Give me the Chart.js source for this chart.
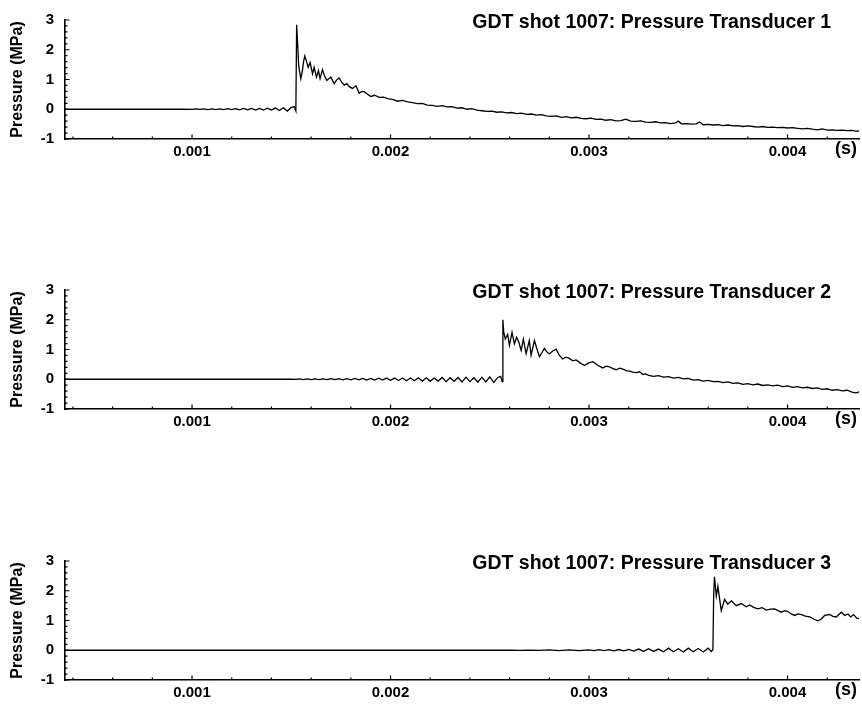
<!DOCTYPE html>
<html>
<head>
<meta charset="utf-8">
<script src="https://cdn.jsdelivr.net/npm/chart.js@4.4.1/dist/chart.umd.min.js"></script>
<style>
  body { margin: 0; background: #fff; }
  #wrap { position: relative; width: 862px; height: 704px; }
  .panel { position: absolute; left: 0; width: 862px; height: 165px; }
</style>
</head>
<body>
<div id="wrap">
  <div class="panel" style="top:0px"><canvas id="c1"></canvas></div>
  <div class="panel" style="top:270px"><canvas id="c2"></canvas></div>
  <div class="panel" style="top:541px"><canvas id="c3"></canvas></div>
</div>
<script>
// time in ms, pressure in MPa
const titles = ['GDT shot 1007: Pressure Transducer 1', 'GDT shot 1007: Pressure Transducer 2', 'GDT shot 1007: Pressure Transducer 3'];
const yTitle = 'Pressure (MPa)';
const xUnit = '(s)';
const xTicks = [0.001, 0.002, 0.003, 0.004];
const xTickLabels = ['0.001', '0.002', '0.003', '0.004'];
const xMinor = [0.0004, 0.0006, 0.0008, 0.0012, 0.0014, 0.0016, 0.0018, 0.0022, 0.0024, 0.0026, 0.0028, 0.0032, 0.0034, 0.0036, 0.0038, 0.0042];
const yTicks = [-1, 0, 1, 2, 3];
const yMinor = [-0.8, -0.6, -0.4, -0.2, 0.2, 0.4, 0.6, 0.8, 1.2, 1.4, 1.6, 1.8, 2.2, 2.4, 2.6, 2.8];

const time1 = [
  0.36, 0.70, 0.90, 0.95, 1.00, 1.02, 1.04, 1.06, 1.08, 1.10,
  1.12, 1.14, 1.16, 1.18, 1.20, 1.22, 1.24, 1.26, 1.28, 1.30,
  1.32, 1.34, 1.36, 1.38, 1.40, 1.42, 1.44, 1.46, 1.48, 1.50,
  1.515, 1.523, 1.527, 1.532, 1.537, 1.541, 1.548, 1.556, 1.562, 1.568,
  1.575, 1.585, 1.595, 1.607, 1.615, 1.627, 1.637, 1.645, 1.657, 1.668,
  1.679, 1.699, 1.716, 1.728, 1.741, 1.755, 1.767, 1.780, 1.792, 1.808,
  1.826, 1.842, 1.855, 1.867, 1.885, 1.901, 1.920, 1.943, 1.965, 1.985,
  2.010, 2.035, 2.060, 2.086, 2.110, 2.136, 2.160, 2.185, 2.210, 2.235,
  2.260, 2.285, 2.310, 2.335, 2.360, 2.385, 2.410, 2.435, 2.460, 2.485,
  2.510, 2.535, 2.560, 2.585, 2.610, 2.635, 2.660, 2.685, 2.710, 2.735,
  2.760, 2.785, 2.810, 2.835, 2.860, 2.885, 2.910, 2.935, 2.960, 2.985,
  3.010, 3.035, 3.060, 3.085, 3.110, 3.135, 3.160, 3.185, 3.210, 3.235,
  3.260, 3.285, 3.310, 3.335, 3.360, 3.385, 3.410, 3.435, 3.450, 3.465,
  3.490, 3.515, 3.540, 3.557, 3.575, 3.600, 3.625, 3.650, 3.675, 3.700,
  3.725, 3.750, 3.775, 3.800, 3.825, 3.850, 3.875, 3.900, 3.925, 3.950,
  3.975, 4.000, 4.025, 4.050, 4.075, 4.100, 4.125, 4.150, 4.175, 4.200,
  4.225, 4.250, 4.275, 4.300, 4.325, 4.350, 4.370
];
const press1 = [
  0, 0, 0, 0.005, -0.005, 0.01, -0.005, 0.01, -0.01, 0.015,
  -0.01, 0.015, -0.015, 0.02, -0.015, 0.02, -0.02, 0.025, -0.02, 0.03,
  -0.025, 0.03, -0.03, 0.035, -0.03, 0.04, -0.04, 0.05, -0.06, 0.06,
  0.08, -0.06, 2.84, 2.2, 1.5, 1.3, 1.03, 1.3, 1.6, 1.79,
  1.65, 1.41, 1.57, 1.19, 1.41, 1.08, 1.30, 1.03, 1.33, 1.12,
  0.97, 1.08, 0.86, 0.98, 1.05, 0.90, 0.81, 0.86, 0.76, 0.70,
  0.79, 0.54, 0.60, 0.59, 0.50, 0.43, 0.47, 0.40, 0.41, 0.36,
  0.33, 0.27, 0.30, 0.25, 0.22, 0.19, 0.20, 0.14, 0.13, 0.10,
  0.12, 0.08, 0.09, 0.04, 0.05, 0.00, 0.02, -0.03, -0.05, -0.07,
  -0.06, -0.10, -0.09, -0.12, -0.11, -0.15, -0.13, -0.17, -0.16, -0.20,
  -0.18, -0.22, -0.24, -0.22, -0.27, -0.25, -0.29, -0.27, -0.31, -0.32,
  -0.30, -0.34, -0.33, -0.37, -0.35, -0.39, -0.38, -0.33, -0.40, -0.41,
  -0.39, -0.43, -0.44, -0.42, -0.46, -0.45, -0.48, -0.46, -0.40, -0.49,
  -0.48, -0.50, -0.49, -0.43, -0.52, -0.51, -0.53, -0.52, -0.55, -0.53,
  -0.56, -0.55, -0.58, -0.56, -0.58, -0.60, -0.58, -0.61, -0.60, -0.62,
  -0.61, -0.63, -0.62, -0.64, -0.66, -0.64, -0.67, -0.69, -0.66, -0.70,
  -0.69, -0.71, -0.70, -0.72, -0.71, -0.74, -0.72
];

const time2 = [
  0.36, 1.00, 1.50, 1.52, 1.54, 1.56, 1.58, 1.60, 1.62, 1.64,
  1.66, 1.68, 1.70, 1.72, 1.74, 1.76, 1.78, 1.80, 1.82, 1.84,
  1.86, 1.88, 1.90, 1.92, 1.94, 1.96, 1.98, 2.00, 2.02, 2.04,
  2.06, 2.08, 2.10, 2.12, 2.14, 2.16, 2.18, 2.20, 2.22, 2.24,
  2.26, 2.28, 2.30, 2.32, 2.34, 2.36, 2.38, 2.40, 2.42, 2.44,
  2.46, 2.48, 2.50, 2.52, 2.54, 2.555, 2.562, 2.566, 2.570, 2.578,
  2.590, 2.599, 2.612, 2.624, 2.635, 2.646, 2.658, 2.669, 2.683, 2.699,
  2.708, 2.725, 2.736, 2.750, 2.763, 2.775, 2.787, 2.800, 2.817, 2.834,
  2.851, 2.867, 2.884, 2.901, 2.918, 2.935, 2.955, 2.977, 2.998, 3.019,
  3.044, 3.069, 3.086, 3.103, 3.120, 3.137, 3.155, 3.170, 3.187, 3.204,
  3.221, 3.238, 3.255, 3.271, 3.285, 3.300, 3.325, 3.350, 3.375, 3.400,
  3.425, 3.450, 3.475, 3.500, 3.525, 3.550, 3.575, 3.600, 3.625, 3.650,
  3.675, 3.700, 3.725, 3.750, 3.775, 3.800, 3.825, 3.850, 3.875, 3.900,
  3.925, 3.950, 3.975, 4.000, 4.025, 4.050, 4.075, 4.100, 4.125, 4.150,
  4.175, 4.200, 4.225, 4.250, 4.275, 4.300, 4.325, 4.345, 4.370
];
const press2 = [
  0, 0, 0.005, -0.005, 0.01, -0.01, 0.01, -0.01, 0.015, -0.01,
  0.015, -0.015, 0.02, -0.015, 0.02, -0.02, 0.02, -0.02, 0.025, -0.02,
  0.03, -0.025, 0.03, -0.03, 0.035, -0.03, 0.04, -0.035, 0.04, -0.04,
  0.045, -0.05, 0.04, -0.05, 0.05, -0.06, 0.05, -0.07, 0.04, -0.06,
  0.06, -0.08, 0.05, -0.07, 0.06, -0.09, 0.07, -0.08, 0.05, -0.10,
  0.07, -0.09, 0.08, -0.11, 0.06, 0.10, -0.08, 2.00, 1.60, 1.35,
  1.51, 1.14, 1.57, 1.19, 1.41, 1.25, 0.97, 1.35, 0.86, 1.30,
  0.81, 1.30, 1.05, 0.76, 0.90, 1.04, 0.92, 0.85, 0.95, 1.01,
  0.80, 0.68, 0.74, 0.70, 0.62, 0.65, 0.55, 0.46, 0.55, 0.59,
  0.47, 0.38, 0.44, 0.42, 0.36, 0.32, 0.37, 0.34, 0.29, 0.27,
  0.24, 0.22, 0.25, 0.16, 0.18, 0.13, 0.10, 0.12, 0.07, 0.09,
  0.04, 0.06, 0.01, 0.03, -0.03, -0.01, -0.06, -0.04, -0.08, -0.07,
  -0.11, -0.09, -0.14, -0.12, -0.17, -0.15, -0.19, -0.16, -0.21, -0.19,
  -0.22, -0.20, -0.25, -0.22, -0.27, -0.25, -0.29, -0.27, -0.31, -0.29,
  -0.34, -0.32, -0.37, -0.35, -0.39, -0.37, -0.43, -0.46, -0.41
];

const time3 = [
  0.36, 2.50, 2.60, 2.65, 2.70, 2.75, 2.80, 2.85, 2.90, 2.95,
  3.000, 3.025, 3.050, 3.075, 3.100, 3.125, 3.150, 3.175, 3.200, 3.225,
  3.250, 3.275, 3.300, 3.325, 3.350, 3.375, 3.400, 3.425, 3.450, 3.475,
  3.500, 3.525, 3.550, 3.575, 3.600, 3.615, 3.624, 3.628, 3.632, 3.641,
  3.649, 3.666, 3.683, 3.699, 3.717, 3.742, 3.767, 3.792, 3.809, 3.829,
  3.851, 3.872, 3.893, 3.914, 3.935, 3.952, 3.969, 3.985, 4.002, 4.019,
  4.036, 4.053, 4.070, 4.090, 4.112, 4.132, 4.153, 4.170, 4.187, 4.212,
  4.229, 4.246, 4.258, 4.271, 4.288, 4.305, 4.318, 4.333, 4.347, 4.360
];
const press3 = [
  0, 0, 0.005, -0.005, 0.005, -0.005, 0.01, -0.01, 0.01, -0.01,
  0.015, -0.01, 0.02, -0.015, 0.02, -0.02, 0.025, -0.02, 0.03, -0.025,
  0.04, -0.04, 0.05, -0.04, 0.04, -0.05, 0.07, -0.05, 0.05, -0.06,
  0.07, -0.05, 0.06, -0.06, 0.07, -0.04, 0.02, 1.90, 2.47, 1.82,
  2.15, 1.33, 1.71, 1.55, 1.66, 1.50, 1.57, 1.46, 1.52, 1.44,
  1.39, 1.43, 1.35, 1.38, 1.39, 1.33, 1.28, 1.33, 1.30, 1.22,
  1.17, 1.22, 1.20, 1.15, 1.12, 1.05, 0.99, 1.05, 1.17, 1.20,
  1.14, 1.12, 1.20, 1.28, 1.17, 1.22, 1.12, 1.20, 1.09, 1.06
];

const FONT = '"Liberation Sans", Arial, Helvetica, sans-serif';
Chart.defaults.font.family = FONT;
Chart.defaults.color = '#000';

// inward tick marks, panel title and unit label
const decor = {
  id: 'decor',
  afterDraw(chart, args, opts) {
    const { ctx, chartArea: a, scales: { x, y } } = chart;
    ctx.save();
    ctx.strokeStyle = '#000';
    ctx.lineWidth = 1.2;
    ctx.beginPath();
    const xMark = (v, len) => {
      const px = x.getPixelForValue(v);
      ctx.moveTo(px, a.bottom);
      ctx.lineTo(px, a.bottom - len);
    };
    const yMark = (v, len) => {
      const py = y.getPixelForValue(v);
      ctx.moveTo(a.left, py);
      ctx.lineTo(a.left + len, py);
    };
    xMinor.forEach(v => xMark(v, 2.5));
    xTicks.forEach(v => xMark(v, 4.5));
    yMinor.forEach(v => yMark(v, 2.5));
    yTicks.forEach(v => yMark(v, 4.5));
    ctx.stroke();

    ctx.fillStyle = '#000';
    ctx.textAlign = 'right';
    ctx.textBaseline = 'alphabetic';
    ctx.font = 'bold 19.5px ' + FONT;
    ctx.fillText(opts.text, chart.width - 31, 27.5);
    ctx.font = 'bold 18px ' + FONT;
    ctx.fillText(xUnit, chart.width - 5, 154);
    ctx.restore();
  }
};

function makeChart(id, times, press, title) {
  const pts = times.map((t, i) => ({ x: t / 1000, y: press[i] }));
  return new Chart(document.getElementById(id), {
    type: 'line',
    data: {
      datasets: [{
        data: pts,
        borderColor: '#000',
        borderWidth: 1.3,
        pointRadius: 0,
        tension: 0,
        fill: false
      }]
    },
    plugins: [decor],
    options: {
      animation: false,
      responsive: true,
      maintainAspectRatio: false,
      parsing: false,
      layout: { padding: { top: 16, right: 3, left: 0, bottom: 0 } },
      plugins: {
        legend: { display: false },
        tooltip: { enabled: false },
        decor: { text: title }
      },
      scales: {
        x: {
          type: 'linear',
          min: 0.00036,
          max: 0.00436,
          grid: { display: false, drawTicks: false },
          border: { display: true, color: '#000', width: 1.6 },
          afterBuildTicks: s => { s.ticks = xTicks.map(v => ({ value: v })); },
          afterFit: s => { s.height = 26; },
          ticks: {
            autoSkip: false,
            maxRotation: 0,
            padding: 4,
            color: '#000',
            font: { size: 15, weight: 'bold' },
            callback: (v, i) => xTickLabels[i]
          }
        },
        y: {
          min: -1,
          max: 3,
          grid: { display: false, drawTicks: false },
          border: { display: true, color: '#000', width: 1.6 },
          afterBuildTicks: s => { s.ticks = yTicks.map(v => ({ value: v })); },
          afterFit: s => { s.width = 65; },
          ticks: {
            padding: 11,
            color: '#000',
            font: { size: 15, weight: 'bold' }
          },
          title: {
            display: true,
            text: yTitle,
            color: '#000',
            font: { size: 16, weight: 'bold' },
            padding: { top: 8, bottom: 0 }
          }
        }
      }
    }
  });
}

makeChart('c1', time1, press1, titles[0]);
makeChart('c2', time2, press2, titles[1]);
makeChart('c3', time3, press3, titles[2]);
</script>
</body>
</html>
